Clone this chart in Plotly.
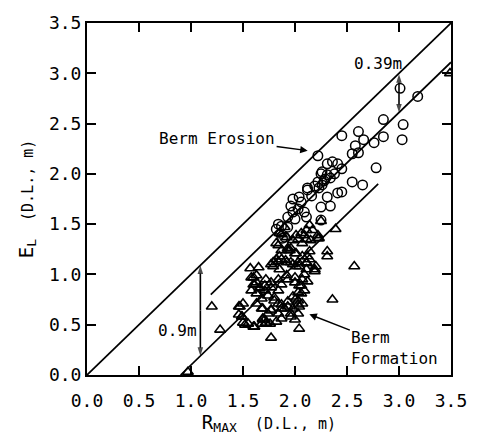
import plotly.graph_objects as go

# ---------------- data ----------------
circle_x = [3.18, 3.01, 2.85, 3.04, 3.03, 2.85, 2.76, 2.61, 2.66, 2.58, 2.61, 2.55, 2.45, 2.22,
            2.78, 2.55, 2.65, 2.36, 2.41, 2.31, 2.45, 2.26, 2.31, 2.34, 2.22, 2.26, 2.12, 2.23,
            2.41, 2.45, 2.04, 1.98, 2.31, 2.25, 2.34, 1.96, 2.03, 2.11, 1.98, 1.93, 1.84, 2.25,
            2.12, 2.09, 2.25, 1.93, 1.88, 1.90, 2.29, 2.19, 2.16, 2.06, 2.00, 1.87, 2.38, 2.28,
            1.82]
circle_y = [2.77, 2.85, 2.54, 2.49, 2.34, 2.37, 2.31, 2.42, 2.34, 2.28, 2.21, 2.20, 2.38, 2.18,
            2.06, 1.92, 1.89, 2.12, 2.10, 2.10, 2.05, 2.02, 1.99, 1.96, 1.92, 1.89, 1.86, 1.86,
            1.81, 1.82, 1.77, 1.75, 1.77, 1.67, 1.68, 1.68, 1.65, 1.57, 1.62, 1.57, 1.50, 2.00,
            1.84, 1.62, 1.54, 1.47, 1.36, 1.37, 1.95, 1.88, 1.78, 1.72, 1.55, 1.48, 2.00, 1.93,
            1.45]

tri_x = [2.39, 2.31, 2.31, 2.57, 2.36, 2.04, 1.77, 2.25, 2.22, 2.17, 2.14, 2.11, 2.06, 2.01,
         2.07, 2.15, 2.22, 1.85, 1.92, 1.98, 1.90, 1.87, 2.03, 2.11, 2.14, 2.12,
         1.82, 1.87, 1.95, 2.01, 2.07, 2.14, 2.20, 2.19, 2.11, 2.01, 1.92, 1.82, 1.79, 1.85,
         1.92, 2.00, 2.07, 1.72, 1.63,
         1.84, 1.93, 2.00, 1.96, 1.93, 2.11, 2.04, 1.98, 1.91, 1.84, 1.77, 1.79, 1.87, 1.96,
         2.03, 2.11, 2.19, 1.57, 1.65, 1.85,
         1.60, 1.63, 1.58, 1.71, 1.77, 1.84, 1.93, 2.00, 2.06, 2.03, 1.98, 1.93, 1.87, 1.80,
         1.74, 1.68, 1.63, 1.69, 1.77, 1.84, 1.90, 1.96, 2.03, 2.07, 1.98,
         1.58, 1.60, 1.66, 1.71, 1.63, 1.80, 1.84, 1.77, 1.87, 2.04, 2.06, 2.01, 1.93, 1.87,
         1.84, 1.77, 1.74, 1.71, 1.68, 1.61, 1.55, 1.49, 1.46, 1.50, 2.04, 2.03, 1.96, 1.87,
         1.82, 1.76, 1.69, 1.72, 2.00, 2.03, 2.09, 2.12, 2.09,
         1.20, 1.28, 1.47, 1.49, 1.50, 1.60, 1.61, 1.66, 1.68, 1.69, 1.72, 1.52, 1.46,
         0.97, 3.49, 2.09, 2.23]
tri_y = [1.45, 1.23, 1.18, 1.08, 0.75, 0.46, 0.37, 1.53, 1.39, 1.44, 1.49, 1.44, 1.41, 1.39,
         1.31, 1.34, 1.36, 1.41, 1.37, 1.34, 1.47, 1.40, 1.35, 1.35, 1.23, 1.18,
         1.31, 1.24, 1.24, 1.21, 1.18, 1.15, 1.08, 1.03, 1.05, 1.08, 1.12, 1.15, 1.08, 1.05,
         0.99, 0.97, 0.95, 0.95, 0.99,
         1.29, 1.26, 1.21, 1.26, 1.24, 1.11, 1.08, 1.10, 1.14, 1.13, 1.10, 1.12, 1.15, 1.12,
         1.12, 1.12, 1.05, 1.06, 1.07, 1.18,
         0.97, 0.92, 0.84, 0.89, 0.92, 0.95, 0.95, 0.92, 0.89, 0.82, 0.78, 0.73, 0.70, 0.74,
         0.79, 0.76, 0.71, 0.66, 0.65, 0.61, 0.66, 0.61, 0.70, 0.71, 0.66,
         0.97, 0.90, 0.87, 0.84, 0.81, 0.77, 0.84, 0.87, 0.90, 0.89, 0.81, 0.76, 0.68, 0.66,
         0.71, 0.64, 0.61, 0.55, 0.51, 0.48, 0.51, 0.58, 0.68, 0.71, 0.68, 0.61, 0.58, 0.56,
         0.53, 0.51, 0.56, 0.51, 0.55, 0.74, 1.00, 0.93, 0.84,
         0.68, 0.45, 0.68, 0.58, 0.52, 0.48, 0.90, 0.86, 0.66, 0.55, 0.52, 0.50, 0.60,
         0.03, 3.00, 1.39, 1.36]

# boundary lines
erosion_x = [0.0, 3.5]
erosion_y = [0.0, 3.5]
offset39_x = [1.19, 3.5]
offset39_y = [0.80, 3.11]
offset90_x = [0.9, 2.80]
offset90_y = [0.0, 1.90]

# dimension arrows (x position, lower end, upper end)
gap39 = (3.0, 2.61, 2.99)
gap90 = (1.09, 0.19, 1.09)

tick_vals = [0.0, 0.5, 1.0, 1.5, 2.0, 2.5, 3.0, 3.5]
tick_text = ["0.0", "0.5", "1.0", "1.5", "2.0", "2.5", "3.0", "3.5"]

# ---------------- figure ----------------
MONO = "DejaVu Sans Mono"
line_style = dict(color="black", width=1.7)

fig = go.Figure()
for lx, ly in [(erosion_x, erosion_y), (offset39_x, offset39_y), (offset90_x, offset90_y)]:
    fig.add_trace(go.Scatter(x=lx, y=ly, mode="lines", line=line_style,
                             showlegend=False, hoverinfo="skip"))

# double-headed dimension arrows: two halves, each ending in an arrow marker
for gx, lo, hi in [gap39, gap90]:
    mid = (lo + hi) / 2
    for end in (hi, lo):
        fig.add_trace(go.Scatter(
            x=[gx, gx], y=[mid, end], mode="lines+markers", showlegend=False,
            hoverinfo="skip", line=dict(color="black", width=1.6),
            marker=dict(symbol="arrow", angleref="previous", size=[0, 9], color="black",
                        line=dict(width=0))))

fig.add_trace(go.Scatter(x=tri_x, y=tri_y, mode="markers", showlegend=False,
                         marker=dict(symbol="triangle-up-open", size=9.5, color="black",
                                     line=dict(width=1.6, color="black"))))
fig.add_trace(go.Scatter(x=circle_x, y=circle_y, mode="markers", showlegend=False,
                         marker=dict(symbol="circle-open", size=9.5, color="black",
                                     line=dict(width=1.5, color="black"))))

axis_common = dict(range=[0, 3.5], tickvals=tick_vals, ticktext=tick_text,
                   ticks="inside", ticklen=9, tickwidth=2, tickcolor="black",
                   showline=True, linewidth=2, linecolor="black", mirror="ticks",
                   showgrid=False, zeroline=False,
                   tickfont=dict(family=MONO, size=18, color="black"))

NB = "\u00a0"
x_title = ('<span style="font-size:19px">R</span>'
           '<sub><span style="font-size:13px">MAX</span></sub>' + NB * 2 + "(D.L., m)")
y_title = ('<span style="font-size:19px">E</span>'
           '<sub><span style="font-size:13px">L</span></sub>' + NB * 2 + "(D.L., m)")

fig.update_layout(
    width=479, height=444,
    margin=dict(l=87, r=24, t=14, b=69),
    paper_bgcolor="white", plot_bgcolor="white",
    xaxis=dict(**axis_common, ticklabelstandoff=8,
               title=dict(text=x_title, font=dict(family=MONO, size=15, color="black"),
                          standoff=6)),
    yaxis=dict(**axis_common,
               title=dict(text=y_title, font=dict(family=MONO, size=15, color="black"),
                          standoff=12)),
)

ann_font = dict(family=MONO, size=16, color="black")

annotations = [
    # labels with arrows
    dict(x=2.122, y=2.231, ax=1.251, ay=2.35, axref="x", ayref="y", text="Berm Erosion",
         font=ann_font, showarrow=True, arrowhead=2, arrowsize=1, arrowwidth=1.5,
         arrowcolor="black", standoff=0),
    dict(x=2.138, y=0.604, ax=2.96, ay=0.27, axref="x", ayref="y",
         text="Berm<br>Formation", font=ann_font, align="left",
         showarrow=True, arrowhead=2, arrowsize=1, arrowwidth=1.5,
         arrowcolor="black", standoff=0),
    # dimension labels
    dict(x=3.0, y=3.1, text="0.39m", showarrow=False, font=ann_font,
         xanchor="right", yanchor="middle", xshift=5),
    dict(x=1.044, y=0.446, text="0.9m", showarrow=False, font=ann_font,
         xanchor="right", yanchor="middle", xshift=3),
]
fig.update_layout(annotations=annotations)

fig.write_html("out.html")
